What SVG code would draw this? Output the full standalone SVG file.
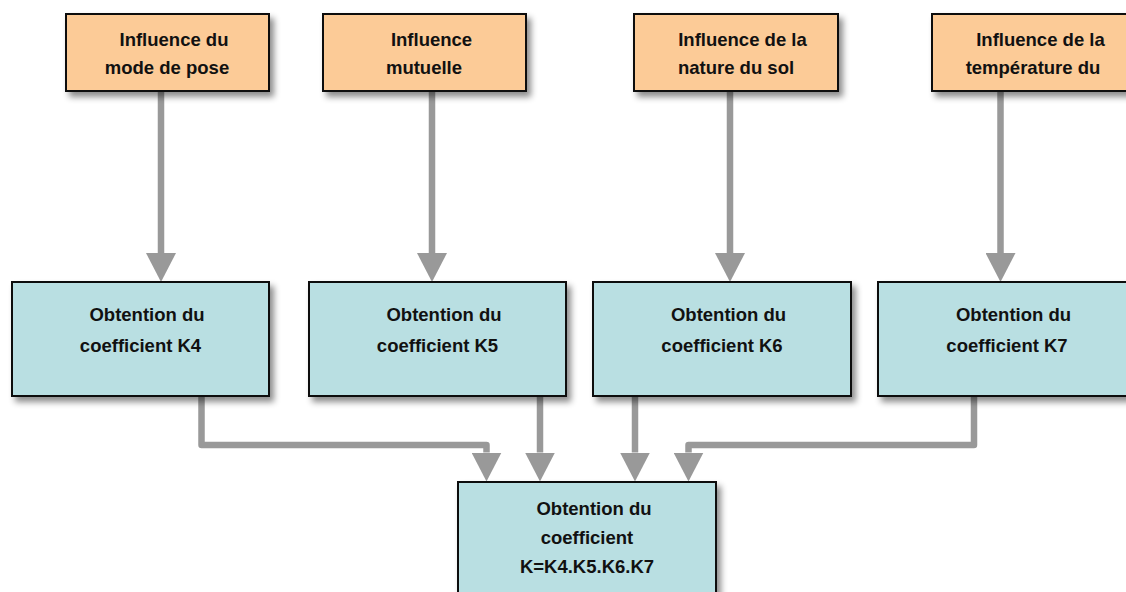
<svg xmlns="http://www.w3.org/2000/svg" width="1126" height="592" viewBox="0 0 1126 592">
  <defs>
    <filter id="shadow" x="-10%" y="-10%" width="130%" height="140%">
      <feDropShadow dx="4" dy="5" stdDeviation="3" flood-color="#000" flood-opacity="0.45"/>
    </filter>
    <marker id="arrow" markerUnits="userSpaceOnUse" markerWidth="30" markerHeight="30" viewBox="0 0 30 30" refX="0" refY="15" orient="auto">
      <path d="M0,0 L29,15 L0,30 Z" fill="#999999"/>
    </marker>
    <style>
      .top { fill: #FCCB97; stroke: #111; stroke-width: 2; filter: url(#shadow); }
      .k { fill: #B9DFE2; stroke: #111; stroke-width: 2; filter: url(#shadow); }
      .t { font-family: "Liberation Sans", Arial, sans-serif; font-weight: bold; font-size: 18.5px; fill: #111; text-anchor: middle; }
      .conn { fill: none; stroke: #999999; stroke-width: 6.5; stroke-linejoin: round; marker-end: url(#arrow); }
    </style>
  </defs>
  <rect width="1126" height="592" fill="#ffffff"/>

  <g id="connectors">
    <path class="conn" d="M161,91 V253"/>
    <path class="conn" d="M432,91 V253"/>
    <path class="conn" d="M730,91 V253"/>
    <path class="conn" d="M1000.5,91 V253"/>
    <path class="conn" d="M201.5,396 V445 H486.5 V452.5"/>
    <path class="conn" d="M540,396 V452.5"/>
    <path class="conn" d="M635,396 V452.5"/>
    <path class="conn" d="M974,396 V445 H688.5 V452.5"/>
  </g>

  <g id="influence-pose">
    <rect class="top" x="66" y="14" width="203" height="77"/>
    <text class="t" x="174" y="46">Influence du</text>
    <text class="t" x="167" y="74">mode de pose</text>
  </g>
  <g id="influence-mutuelle">
    <rect class="top" x="323" y="14" width="203" height="77"/>
    <text class="t" x="431.5" y="46">Influence</text>
    <text class="t" x="424" y="74">mutuelle</text>
  </g>
  <g id="influence-sol">
    <rect class="top" x="634" y="14" width="204" height="77"/>
    <text class="t" x="742.5" y="46">Influence de la</text>
    <text class="t" x="736" y="74">nature du sol</text>
  </g>
  <g id="influence-temperature">
    <rect class="top" x="932" y="14" width="204" height="77"/>
    <text class="t" x="1040.5" y="46">Influence de la</text>
    <text class="t" x="1033" y="74">température du</text>
  </g>

  <g id="k4">
    <rect class="k" x="12" y="282" width="257" height="114"/>
    <text class="t" x="147" y="321">Obtention du</text>
    <text class="t" x="140.5" y="352">coefficient K4</text>
  </g>
  <g id="k5">
    <rect class="k" x="309" y="282" width="257" height="114"/>
    <text class="t" x="444" y="321">Obtention du</text>
    <text class="t" x="437.5" y="352">coefficient K5</text>
  </g>
  <g id="k6">
    <rect class="k" x="593" y="282" width="258" height="114"/>
    <text class="t" x="728.5" y="321">Obtention du</text>
    <text class="t" x="722" y="352">coefficient K6</text>
  </g>
  <g id="k7">
    <rect class="k" x="878" y="282" width="258" height="114"/>
    <text class="t" x="1013.5" y="321">Obtention du</text>
    <text class="t" x="1007" y="352">coefficient K7</text>
  </g>

  <g id="k-total">
    <rect class="k" x="458" y="482" width="258" height="130"/>
    <text class="t" x="594" y="515">Obtention du</text>
    <text class="t" x="587" y="544">coefficient</text>
    <text class="t" x="587" y="573">K=K4.K5.K6.K7</text>
  </g>
</svg>
